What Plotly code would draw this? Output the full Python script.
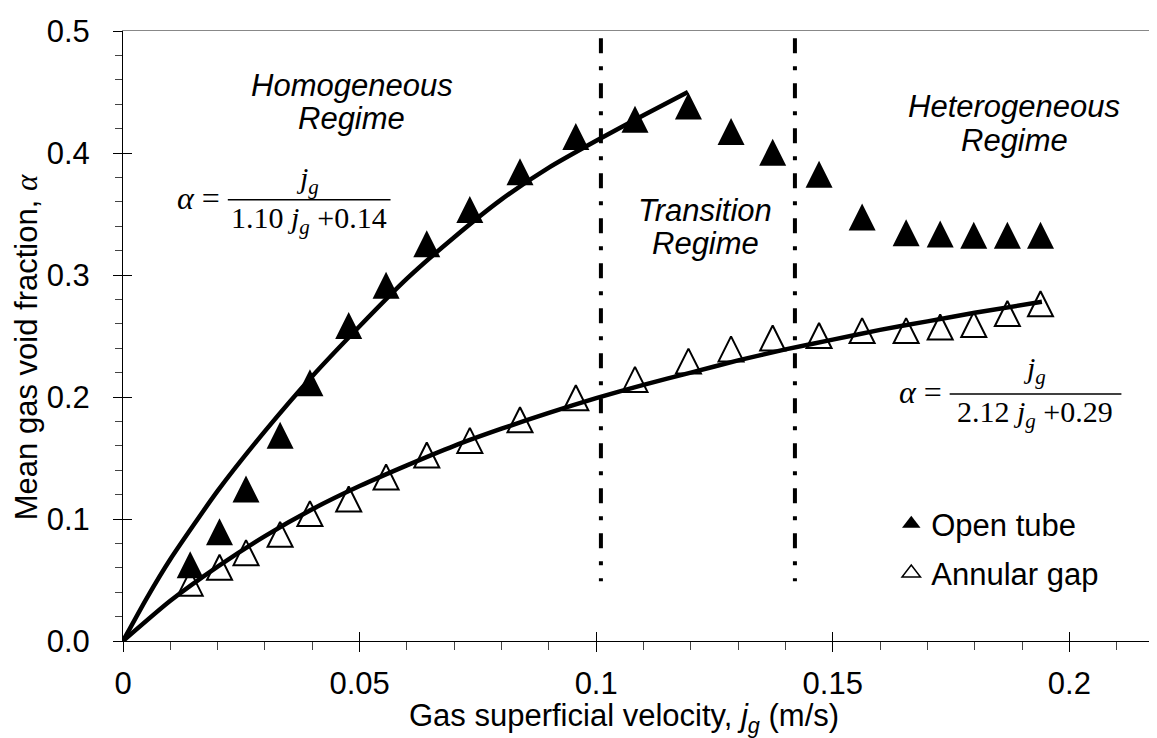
import plotly.graph_objects as go

# ---------------- data ----------------
jg = [0.0142, 0.0204, 0.0260, 0.0332, 0.0395, 0.0477, 0.0556, 0.0642, 0.0733, 0.0839,
      0.0957, 0.1082, 0.1195, 0.1285, 0.1373, 0.1471, 0.1562, 0.1655, 0.1727, 0.1798,
      0.1869, 0.1939]
open_tube = [0.063, 0.090, 0.125, 0.169, 0.212, 0.259, 0.292, 0.326, 0.354, 0.385,
             0.414, 0.428, 0.439, 0.418, 0.401, 0.383, 0.348, 0.335, 0.334, 0.333,
             0.333, 0.333]
annular_gap = [0.047, 0.060, 0.072, 0.087, 0.104, 0.116, 0.134, 0.152, 0.164, 0.181,
               0.199, 0.214, 0.229, 0.239, 0.248, 0.250, 0.254, 0.254, 0.257, 0.259,
               0.268, 0.276]

hom_fit_x = [0, 0.005, 0.01, 0.02, 0.03, 0.04, 0.05, 0.06, 0.07, 0.08, 0.09, 0.10, 0.11, 0.1194]
hom_fit_y = [0, 0.035, 0.067, 0.123, 0.172, 0.217, 0.258, 0.297, 0.331, 0.362, 0.388, 0.410, 0.431, 0.450]

het_fit_x = [0, 0.01, 0.02, 0.03, 0.04, 0.05, 0.06, 0.07, 0.08, 0.09, 0.10, 0.11, 0.12,
             0.13, 0.14, 0.15, 0.16, 0.17, 0.18, 0.1942]
het_fit_y = [0, 0.033, 0.061, 0.086, 0.108, 0.127, 0.144, 0.160, 0.174, 0.187, 0.199, 0.210,
             0.220, 0.230, 0.239, 0.247, 0.255, 0.262, 0.269, 0.278]

regime_bounds = [0.101, 0.142]
bound_y = [0.494, 0.049]

x_ticks = [0, 0.05, 0.1, 0.15, 0.2]
x_ticktext = ["0", "0.05", "0.1", "0.15", "0.2"]
y_ticks = [0.0, 0.1, 0.2, 0.3, 0.4, 0.5]
y_ticktext = ["0.0", "0.1", "0.2", "0.3", "0.4", "0.5"]

# ---------------- styles ----------------
SANS = "Arial, Liberation Sans, sans-serif"
SERIF = "Times New Roman, Liberation Serif, serif"
FS = 31
W, H = 1157, 738
M = dict(l=115, r=1, t=23, b=105)
Y_RANGE = [0, 0.5]
MARKER_SIZE = 26
# arrow-up markers hang below their tip; a marker axis offset by half a marker
# height keeps each triangle centred on its value
plot_h = H - M["t"] - M["b"]
half = (MARKER_SIZE / 2) / plot_h * (Y_RANGE[1] - Y_RANGE[0])
Y_MARK_RANGE = [Y_RANGE[0] - half, Y_RANGE[1] - half]

fig = go.Figure()

fig.add_trace(go.Scatter(x=hom_fit_x, y=hom_fit_y, mode="lines", showlegend=False,
                         line=dict(color="black", width=4.5, shape="spline", smoothing=0.6)))
fig.add_trace(go.Scatter(x=het_fit_x, y=het_fit_y, mode="lines", showlegend=False,
                         line=dict(color="black", width=4.5, shape="spline", smoothing=0.6)))
for xb in regime_bounds:
    fig.add_trace(go.Scatter(x=[xb, xb], y=bound_y, mode="lines", showlegend=False,
                             line=dict(color="black", width=4, dash="15px,13px,4px,13px")))

fig.add_trace(go.Scatter(
    x=jg, y=open_tube, mode="markers", name="Open tube", showlegend=False, yaxis="y4",
    marker=dict(symbol="arrow-up", size=MARKER_SIZE + 1, color="black", line=dict(width=0)),
))
fig.add_trace(go.Scatter(
    x=jg, y=annular_gap, mode="markers", name="Annular gap", showlegend=False, yaxis="y4",
    marker=dict(symbol="arrow-up-open", size=MARKER_SIZE - 1, color="black",
                line=dict(width=2, color="black")),
))
# legend entries
fig.add_trace(go.Scatter(x=[None], y=[None], mode="markers", name="Open tube", legendgroup="a",
                         marker=dict(symbol="triangle-up", size=16, color="black")))
fig.add_trace(go.Scatter(x=[None], y=[None], mode="markers", name="Annular gap", legendgroup="b",
                         marker=dict(symbol="triangle-up-open", size=16, color="black",
                                     line=dict(width=1.5, color="black"))))

# dummy traces to register overlay axes
for xa, ya in [("x2", "y"), ("x3", "y"), ("x", "y2"), ("x", "y3")]:
    fig.add_trace(go.Scatter(x=[None], y=[None], xaxis=xa, yaxis=ya, showlegend=False,
                             hoverinfo="skip"))

# ---------------- annotations ----------------
ann = []
def txt(x, y, text, size=FS, family=SANS, xanchor="center", yanchor="middle"):
    ann.append(dict(x=x, y=y, xref="x", yref="y", text=text, showarrow=False,
                    font=dict(family=family, size=size, color="black"),
                    xanchor=xanchor, yanchor=yanchor))

txt(0.0483, 0.455, "<i>Homogeneous</i>")
txt(0.0483, 0.428, "<i>Regime</i>")
txt(0.1231, 0.353, "<i>Transition</i>")
txt(0.1231, 0.3255, "<i>Regime</i>")
txt(0.1884, 0.438, "<i>Heterogeneous</i>")
txt(0.1884, 0.410, "<i>Regime</i>")

JG = "<i>j</i><sub><i>g</i></sub>"
# formula 1
txt(0.0209, 0.3631, "<i>α</i> =", size=32, family=SERIF, xanchor="right")
txt(0.0390, 0.3782, JG, size=30, family=SERIF)
txt(0.0394, 0.3454, "1.10 " + JG + " +0.14", size=30, family=SERIF)
# formula 2
txt(0.1734, 0.2041, "<i>α</i> =", size=32, family=SERIF, xanchor="right")
txt(0.1926, 0.2224, JG, size=30, family=SERIF)
txt(0.1928, 0.1857, "2.12 " + JG + " +0.29", size=30, family=SERIF)

# axis titles
ann.append(dict(x=0.481, y=-0.127, xref="paper", yref="paper", showarrow=False,
                text="Gas superficial velocity, <i>j<sub>g</sub></i> (m/s)",
                font=dict(family=SANS, size=FS, color="black"), xanchor="center", yanchor="middle"))
ann.append(dict(x=-0.092, y=0.482, xref="paper", yref="paper", showarrow=False, textangle=-90,
                text="Mean gas void fraction, <span style='font-family:Times New Roman, Liberation Serif, serif'><i>α</i></span>",
                font=dict(family=SANS, size=FS, color="black"), xanchor="center", yanchor="middle"))

shapes = [
    dict(type="line", xref="x", yref="y", x0=0.02215, x1=0.05654, y0=0.3617, y1=0.3617,
         line=dict(color="black", width=1.5)),
    dict(type="line", xref="x", yref="y", x0=0.1747, x1=0.2110, y0=0.2025, y1=0.2025,
         line=dict(color="black", width=1.5)),
]

fig.update_layout(
    width=W, height=H,
    margin=M,
    paper_bgcolor="white", plot_bgcolor="white",
    font=dict(family=SANS, size=FS, color="black"),
    showlegend=True,
    legend=dict(x=0.738, y=0.236, xanchor="left", yanchor="top",
                font=dict(family=SANS, size=FS, color="black"),
                bgcolor="rgba(0,0,0,0)", borderwidth=0, tracegroupgap=6,
                itemwidth=30),
    annotations=ann,
    shapes=shapes,
    xaxis=dict(range=[0, 0.22], showline=True, linecolor="black", linewidth=1,
               showgrid=False, zeroline=False,
               tickmode="array", tickvals=x_ticks, ticktext=x_ticktext,
               ticks="outside", ticklen=10, tickwidth=1, tickcolor="black",
               tickfont=dict(family=SANS, size=FS), ticklabelstandoff=5,
               minor=dict(ticks="outside", ticklen=8, dtick=0.01, tickcolor="#444", tickwidth=1,
                          showgrid=False)),
    xaxis2=dict(overlaying="x", matches="x", anchor="y", side="bottom",
                showline=False, showgrid=False, zeroline=False,
                tickmode="array", tickvals=x_ticks, ticks="inside", ticklen=9,
                tickcolor="black", showticklabels=False),
    xaxis3=dict(overlaying="x", matches="x", anchor="y", side="top",
                showline=True, linecolor="#888", linewidth=1, showgrid=False, zeroline=False,
                ticks="", showticklabels=False),
    yaxis=dict(range=Y_RANGE, showline=True, linecolor="black", linewidth=1,
               showgrid=False, zeroline=False,
               tickmode="array", tickvals=y_ticks, ticktext=y_ticktext,
               ticks="outside", ticklen=9, tickwidth=1, tickcolor="black",
               tickfont=dict(family=SANS, size=FS), ticklabelstandoff=17,
               minor=dict(ticks="outside", ticklen=7, dtick=0.02, tickcolor="#444", tickwidth=1,
                          showgrid=False)),
    yaxis2=dict(overlaying="y", matches="y", anchor="x", side="left",
                showline=False, showgrid=False, zeroline=False,
                tickmode="array", tickvals=y_ticks, ticks="inside", ticklen=9,
                tickcolor="black", showticklabels=False),
    yaxis3=dict(overlaying="y", matches="y", anchor="x", side="right",
                showline=True, linecolor="#888", linewidth=1, showgrid=False, zeroline=False,
                ticks="", showticklabels=False),
    yaxis4=dict(overlaying="y", anchor="x", side="left", range=Y_MARK_RANGE,
                visible=False, fixedrange=True),
)

fig.write_html("out.html")
